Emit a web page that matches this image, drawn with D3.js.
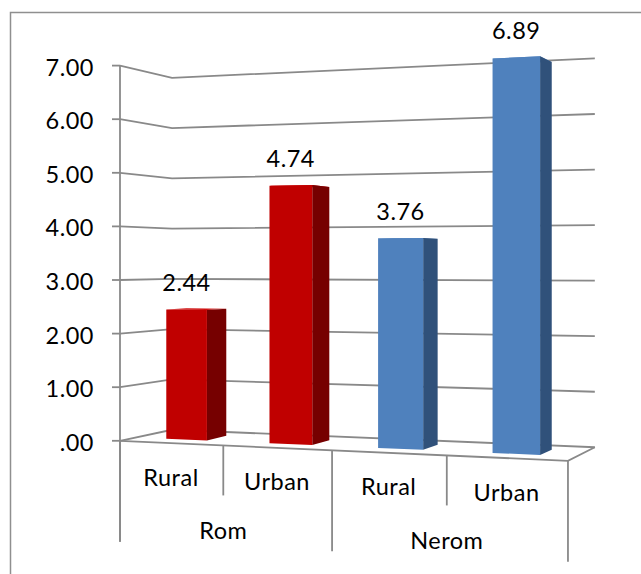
<!DOCTYPE html>
<html><head><meta charset="utf-8">
<script src="https://cdn.jsdelivr.net/npm/d3@7"></script>
<style>
html,body{margin:0;padding:0;background:#fff;}
svg{display:block;}
text{font-family:Lato,"Open Sans",sans-serif;fill:#000;letter-spacing:0.5px;}
</style>
</head><body>
<svg id="chart" width="641" height="574"></svg>
<script>
// ---- data ----
const groups = ["Rom", "Nerom"];
const subCategories = ["Rural", "Urban"];
const values = [2.44, 4.74, 3.76, 6.89];
const valueLabels = ["2.44", "4.74", "3.76", "6.89"];
const yTickValues = [0, 1, 2, 3, 4, 5, 6, 7];
const yTickLabels = [".00", "1.00", "2.00", "3.00", "4.00", "5.00", "6.00", "7.00"];

const categories = groups.flatMap(g => subCategories.map(s => ({group: g, sub: s})));

// ---- styles ----
const frontColors = {Rom: "#C00000", Nerom: "#4F81BD"};
const sideColors = {Rom: "#760000", Nerom: "#30517A"};
const topColors = {Rom: "#D01010", Nerom: "#6A95CC"};
const gridColor = "#898989";
const fontSize = 23.5;

const svg = d3.select("#chart");

// outer border
svg.append("rect").attr("x", 10.5).attr("y", 12.5).attr("width", 660).attr("height", 600)
  .attr("fill", "#fff").attr("stroke", "#8f8f8f").attr("stroke-width", 1.5);

// ---- world scales ----
const xBar = d3.scaleBand().domain(d3.range(categories.length)).range([0, 1])
  .paddingInner(0.6).paddingOuter(0.3);
const xSlot = d3.scaleBand().domain(d3.range(categories.length)).range([0, 1]);
const xGroup = d3.scaleBand().domain(groups).range([0, 1]);
const yVal = d3.scaleLinear().domain([0, 7]).range([0, 53.6 * 7]);
const zBar = [0.3, 0.7];

// perspective projection (vertical image plane)
const P = {ox: 120, ax: 390.6, az: 63.4, kx: -0.101, kz: 0.066, horizon: 262.3, eye: 178.5};
function project(X, v, Z) {
  const D = 1 + P.kx * X + P.kz * Z;
  return [(P.ox + P.ax * X + P.az * Z) / D, P.horizon + (P.eye - yVal(v)) / D];
}
const line = d3.line();

// ---- gridlines on side & back walls ----
svg.append("g").selectAll("path").data(yTickValues).join("path")
  .attr("d", v => line([project(0, v, 0), project(0, v, 1), project(1, v, 1)]))
  .attr("fill", "none").attr("stroke", gridColor).attr("stroke-width", 1.8);

// floor outline (front & right edges)
svg.append("path")
  .attr("d", line([project(0, 0, 0), project(1, 0, 0), project(1, 0, 1)]))
  .attr("fill", "none").attr("stroke", gridColor).attr("stroke-width", 1.8);

// ---- value axis ----
const axisX = project(0, 0, 0)[0];
const axisBottom = project(0, 0, 0)[1] + 101;
svg.append("line").attr("x1", axisX).attr("x2", axisX)
  .attr("y1", project(0, d3.max(yTickValues), 0)[1]).attr("y2", axisBottom)
  .attr("stroke", gridColor).attr("stroke-width", 1.8);
const ticks = svg.append("g").selectAll("g").data(yTickValues).join("g");
ticks.append("line")
  .attr("x1", v => project(0, v, 0)[0] - 8).attr("x2", v => project(0, v, 0)[0])
  .attr("y1", v => project(0, v, 0)[1]).attr("y2", v => project(0, v, 0)[1])
  .attr("stroke", gridColor).attr("stroke-width", 1.8);
ticks.append("text")
  .attr("x", v => project(0, v, 0)[0] - 26)
  .attr("y", v => project(0, v, 0)[1] + 10)
  .attr("text-anchor", "end").attr("font-size", fontSize)
  .text((v, i) => yTickLabels[i]);

// ---- category axis ----
const bounds = d3.range(categories.length + 1).map(i => i * xSlot.step());
svg.append("g").selectAll("line").data(bounds).join("line")
  .attr("x1", X => project(X, 0, 0)[0]).attr("x2", X => project(X, 0, 0)[0])
  .attr("y1", X => project(X, 0, 0)[1])
  .attr("y2", (X, i) => project(X, 0, 0)[1] + (i % subCategories.length === 0 ? 101 : 50))
  .attr("stroke", gridColor).attr("stroke-width", 1.8);

svg.append("g").selectAll("text").data(categories).join("text")
  .attr("x", (d, i) => project(xSlot(i) + xSlot.bandwidth() / 2, 0, 0)[0])
  .attr("y", (d, i) => project(xSlot(i) + xSlot.bandwidth() / 2, 0, 0)[1] + 42.5)
  .attr("text-anchor", "middle").attr("font-size", fontSize)
  .text(d => d.sub);

svg.append("g").selectAll("text").data(groups).join("text")
  .attr("x", g => project(xGroup(g) + xGroup.bandwidth() / 2, 0, 0)[0])
  .attr("y", g => project(xGroup(g) + xGroup.bandwidth() / 2, 0, 0)[1] + 94)
  .attr("text-anchor", "middle").attr("font-size", fontSize)
  .text(g => g);

// ---- bars ----
const bars = svg.append("g").selectAll("g").data(categories).join("g");
const bw = xBar.bandwidth();
bars.append("path").attr("fill", d => topColors[d.group])
  .attr("d", (d, i) => {
    const X0 = xBar(i), X1 = X0 + bw, v = values[i];
    return line([project(X0, v, zBar[0]), project(X1, v, zBar[0]), project(X1, v, zBar[1]), project(X0, v, zBar[1])]) + "Z";
  });
bars.append("path").attr("fill", d => sideColors[d.group])
  .attr("d", (d, i) => {
    const X1 = xBar(i) + bw, v = values[i];
    return line([project(X1, 0, zBar[0]), project(X1, v, zBar[0]), project(X1, v, zBar[1]), project(X1, 0, zBar[1])]) + "Z";
  });
bars.append("path").attr("fill", d => frontColors[d.group])
  .attr("d", (d, i) => {
    const X0 = xBar(i), X1 = X0 + bw, v = values[i];
    return line([project(X0, 0, zBar[0]), project(X1, 0, zBar[0]), project(X1, v, zBar[0]), project(X0, v, zBar[0])]) + "Z";
  });

// data labels
bars.append("text")
  .attr("x", (d, i) => project(xBar(i) + bw / 2, values[i], zBar[0])[0])
  .attr("y", (d, i) => project(xBar(i) + bw / 2, values[i], zBar[0])[1] - 18.5)
  .attr("text-anchor", "middle").attr("font-size", fontSize)
  .text((d, i) => valueLabels[i]);
</script>
</body></html>
